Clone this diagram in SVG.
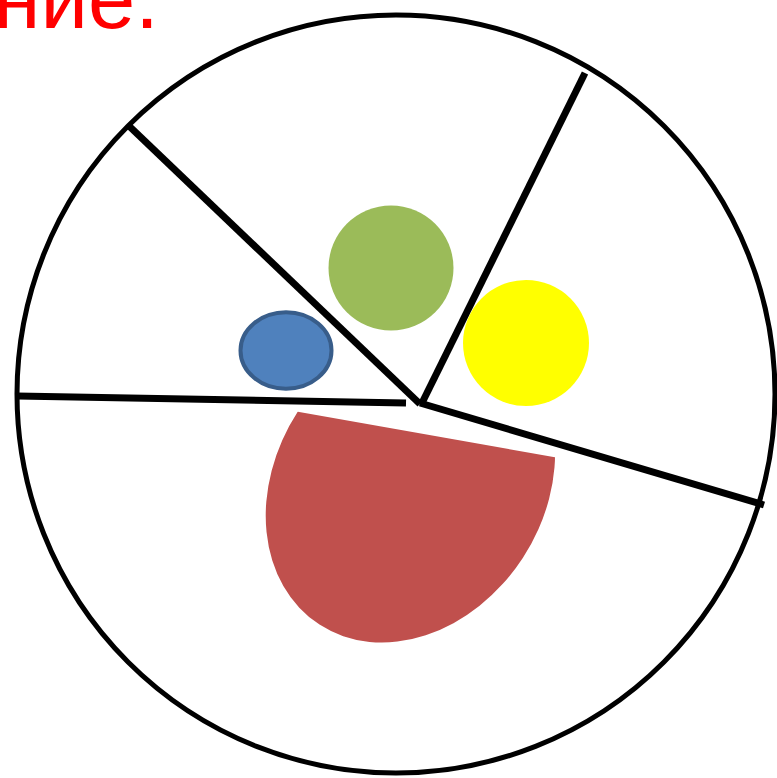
<svg xmlns="http://www.w3.org/2000/svg" width="777" height="778" viewBox="0 0 777 778">
  <style>
    .cut { stroke: #000; stroke-width: 7; stroke-linecap: butt; fill: none; }
    .title { font-family: "Liberation Sans", Arial, sans-serif; font-size: 85px; fill: #FF0000; }
  </style>
  <defs>
    <clipPath id="chordClip">
      <polygon points="200,394.4 650,474.1 650,700 200,700"/>
    </clipPath>
  </defs>
  <rect width="777" height="778" fill="#FFFFFF"/>
  <text class="title" x="-6.5" y="28">ние.</text>
  <g id="plate">
    <circle cx="396" cy="394" r="379" fill="#FFFFFF" stroke="#000" stroke-width="5"/>
  </g>
  <g id="connectors">
    <line class="cut" x1="128" y1="125" x2="420" y2="404"/>
    <line class="cut" x1="585" y1="73" x2="421" y2="405"/>
    <line class="cut" x1="420" y1="403" x2="764" y2="505"/>
    <line class="cut" x1="17" y1="396" x2="406" y2="403"/>
  </g>
  <g id="green">
    <circle cx="391" cy="268" r="62.5" fill="#9BBB59"/>
  </g>
  <g id="yellow">
    <circle cx="526" cy="343" r="63" fill="#FFFF00"/>
  </g>
  <g id="blue">
    <ellipse cx="286" cy="350.5" rx="45.5" ry="38.3" fill="#4F81BD" stroke="#385D8A" stroke-width="4"/>
  </g>
  <g id="red" clip-path="url(#chordClip)">
    <ellipse cx="410.4" cy="484.6" rx="166.9" ry="134.2" transform="rotate(-57 410.4 484.6)" fill="#C0504D"/>
  </g>
</svg>
